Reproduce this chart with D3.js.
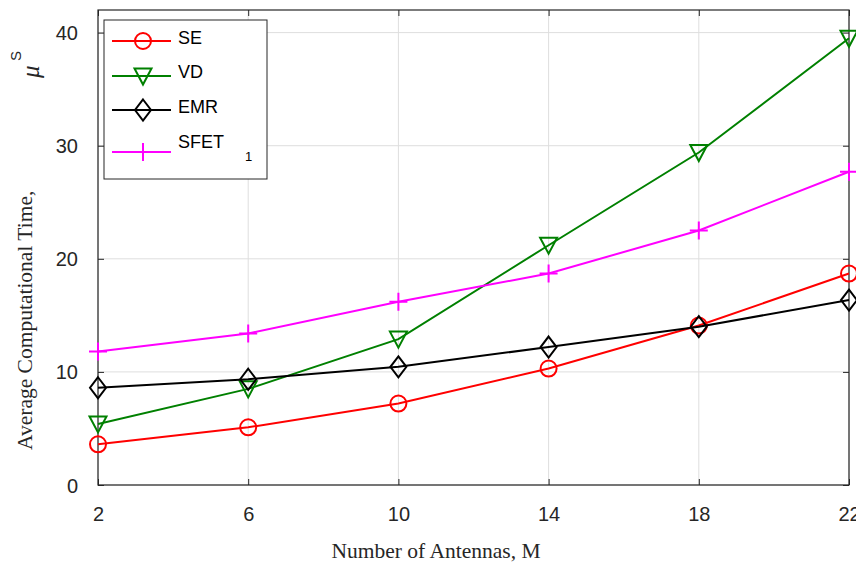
<!DOCTYPE html>
<html>
<head>
<meta charset="utf-8">
<script src="https://cdn.jsdelivr.net/npm/d3@7"></script>
<style>
    body { margin: 0; background: #fff; }
    svg { display: block; }
</style>
</head>
<body>
<div id="chart"></div>
<script>
// values
var antennas = [2, 6, 10, 14, 18, 22],
    seTime   = [3.6, 5.1, 7.2, 10.3, 14.1, 18.7],
    vdTime   = [5.4, 8.5, 12.9, 21.2, 29.4, 39.5],
    emrTime  = [8.6, 9.35, 10.45, 12.2, 14.0, 16.35],
    sfetTime = [11.8, 13.4, 16.2, 18.7, 22.5, 27.7],
    xTicks   = [2, 6, 10, 14, 18, 22],
    yTicks   = [0, 10, 20, 30, 40],
    seriesNames = ['SE', 'VD', 'EMR', 'SFET'];

var W = 856, H = 564,
    margin = {top: 10, right: 7, bottom: 79, left: 98},
    width = W - margin.left - margin.right,
    height = H - margin.top - margin.bottom,
    axisColor = '#262626',
    tickLen = 6;

var svg = d3.select('#chart').append('svg')
    .attr('width', W)
    .attr('height', H);

var g = svg.append('g')
    .attr('transform', 'translate(' + margin.left + ',' + margin.top + ')');

var x = d3.scaleLinear().domain([2, 22]).range([0, width]),
    y = d3.scaleLinear().domain([0, 42]).range([height, 0]);

// markers, drawn centred on (0,0)
var markers = {
    circle: function(sel) {
        sel.append('circle').attr('r', 8);
    },
    triangle: function(sel) {
        sel.append('path').attr('d', 'M-8.5,-7.5L8.5,-7.5L0,8.5Z');
    },
    diamond: function(sel) {
        sel.append('path').attr('d', 'M0,-10.5L8,0L0,10.5L-8,0Z');
    },
    plus: function(sel) {
        sel.append('path').attr('d', 'M-9,0L9,0M0,-9L0,9');
    }
};

var series = [
    {name: 'SE',   values: seTime,   color: '#ff0000', marker: 'circle'},
    {name: 'VD',   values: vdTime,   color: '#008000', marker: 'triangle'},
    {name: 'EMR',  values: emrTime,  color: '#000000', marker: 'diamond'},
    {name: 'SFET', values: sfetTime, color: '#ff00ff', marker: 'plus'}
];

// grid
g.append('g').selectAll('line.vgrid')
    .data(xTicks)
    .enter().append('line')
    .attr('x1', function(d) { return x(d); })
    .attr('x2', function(d) { return x(d); })
    .attr('y1', 0).attr('y2', height)
    .style('stroke', '#dedede').style('stroke-width', 1);
g.append('g').selectAll('line.hgrid')
    .data(yTicks)
    .enter().append('line')
    .attr('x1', 0).attr('x2', width)
    .attr('y1', function(d) { return y(d); })
    .attr('y2', function(d) { return y(d); })
    .style('stroke', '#dedede').style('stroke-width', 1);

// axes with ticks pointing inwards
var xAxis = d3.axisBottom(x).tickValues(xTicks).tickSizeInner(-tickLen).tickSizeOuter(0).tickPadding(22),
    yAxis = d3.axisLeft(y).tickValues(yTicks).tickSizeInner(-tickLen).tickSizeOuter(0).tickPadding(20);

var gx = g.append('g').attr('transform', 'translate(0,' + height + ')').call(xAxis),
    gy = g.append('g').call(yAxis);
g.append('g').call(d3.axisTop(x).tickValues(xTicks).tickSizeInner(-tickLen).tickSizeOuter(0).tickFormat(''));
g.append('g').attr('transform', 'translate(' + width + ',0)')
    .call(d3.axisRight(y).tickValues(yTicks).tickSizeInner(-tickLen).tickSizeOuter(0).tickFormat(''));

g.selectAll('.domain').remove();
g.selectAll('.tick line').style('stroke', axisColor);
g.selectAll('.tick text')
    .style('font-family', '"Liberation Sans", Arial, sans-serif')
    .style('font-size', '20px')
    .style('fill', axisColor);
gy.selectAll('.tick text').attr('dy', '0.35em');

g.append('rect')
    .attr('width', width).attr('height', height)
    .style('fill', 'none')
    .style('stroke', axisColor)
    .style('stroke-width', 1.2);

// lines and markers
var line = d3.line()
    .x(function(d, i) { return x(antennas[i]); })
    .y(function(d) { return y(d); });

series.forEach(function(s) {
    g.append('path')
        .datum(s.values)
        .attr('d', line)
        .style('fill', 'none')
        .style('stroke', s.color)
        .style('stroke-width', 2);

    g.append('g').selectAll('g.pt')
        .data(s.values)
        .enter().append('g')
        .attr('transform', function(d, i) { return 'translate(' + x(antennas[i]) + ',' + y(d) + ')'; })
        .style('fill', 'none')
        .style('stroke', s.color)
        .style('stroke-width', 2)
        .each(function() { markers[s.marker](d3.select(this)); });
});

// axis labels
svg.append('text')
    .attr('x', 436).attr('y', 558)
    .attr('text-anchor', 'middle')
    .style('font-family', '"Liberation Serif", "Times New Roman", serif')
    .style('font-size', '21.5px')
    .style('fill', axisColor)
    .text('Number of Antennas, M');

svg.append('text')
    .attr('transform', 'translate(32,450) rotate(-90)')
    .style('font-family', '"Liberation Serif", "Times New Roman", serif')
    .style('font-size', '21.5px')
    .style('fill', axisColor)
    .text('Average Computational Time,');

svg.append('text')
    .attr('transform', 'translate(39,78) rotate(-90)')
    .style('font-family', '"Liberation Serif", "Times New Roman", serif')
    .style('font-style', 'italic')
    .style('font-size', '25px')
    .style('fill', axisColor)
    .text('\u03bc');
svg.append('text')
    .attr('transform', 'translate(21,61) rotate(-90)')
    .style('font-family', '"Liberation Sans", Arial, sans-serif')
    .style('font-size', '15px')
    .style('fill', axisColor)
    .text('S');

// legend
var legend = svg.append('g');
legend.append('rect')
    .attr('x', 104).attr('y', 20)
    .attr('width', 163).attr('height', 159)
    .style('fill', '#fff')
    .style('stroke', axisColor)
    .style('stroke-width', 1);

var legendY = [41, 76, 110, 152],
    textY = [43.5, 78, 113, 148];

series.forEach(function(s, i) {
    var row = legend.append('g');
    row.append('line')
        .attr('x1', 112).attr('x2', 171)
        .attr('y1', legendY[i]).attr('y2', legendY[i])
        .style('stroke', s.color).style('stroke-width', 2);
    var m = row.append('g')
        .attr('transform', 'translate(143,' + legendY[i] + ')')
        .style('fill', 'none')
        .style('stroke', s.color)
        .style('stroke-width', 2);
    markers[s.marker](m);
    row.append('text')
        .attr('x', 178).attr('y', textY[i])
        .style('font-family', '"Liberation Sans", Arial, sans-serif')
        .style('font-size', '18px')
        .style('fill', '#000')
        .text(seriesNames[i]);
});
legend.append('text')
    .attr('x', 245).attr('y', 161)
    .style('font-family', '"Liberation Sans", Arial, sans-serif')
    .style('font-size', '13px')
    .style('fill', '#000')
    .text('1');
</script>
</body>
</html>
